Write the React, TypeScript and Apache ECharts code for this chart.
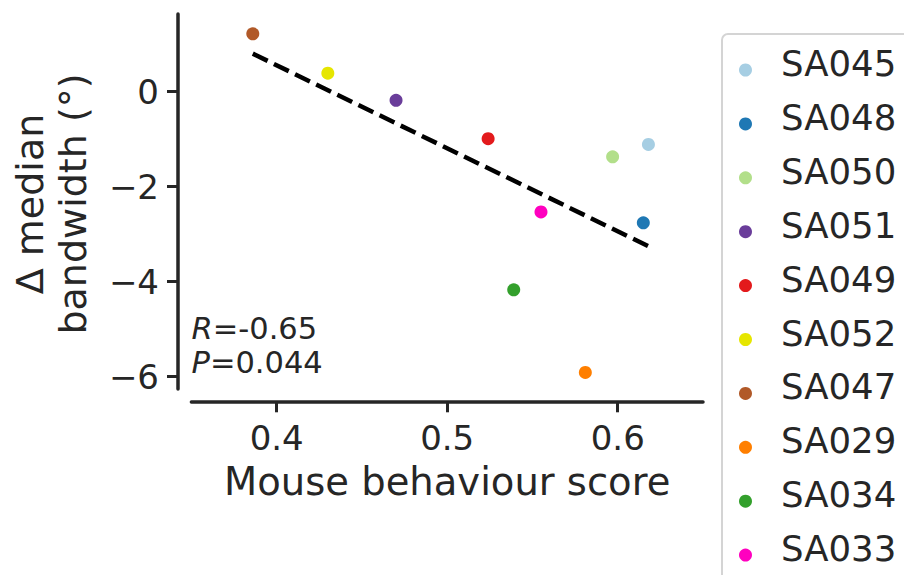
import { useEffect, useRef } from "react";
import * as echarts from "echarts";

// Per-animal behaviour score and change in median tuning bandwidth (degrees)
const subjects = ["SA045", "SA048", "SA050", "SA051", "SA049", "SA052", "SA047", "SA029", "SA034", "SA033"];
const behaviourScores = [0.618, 0.615, 0.597, 0.470, 0.524, 0.430, 0.386, 0.581, 0.539, 0.555];
const bandwidthDeltas = [-1.11, -2.76, -1.37, -0.18, -0.99, 0.39, 1.22, -5.91, -4.17, -2.53];
const subjectColours = ["#a6cee3", "#1f78b4", "#b2df8a", "#6a3d9a", "#e31a1c", "#e6e600", "#b15928", "#ff7f00", "#33a02c", "#ff00bf"];

const xTicks = [0.4, 0.5, 0.6];
const yTicks = [-6, -4, -2, 0];
const statLabels = ["R", "P"];
const statValues = ["-0.65", "0.044"];

const INK = "#262626";
const FONT = "DejaVu Sans";

// Ordinary least-squares fit drawn across the observed score range
function fitLine(xs: number[], ys: number[]) {
  const n = xs.length;
  const mx = xs.reduce((a, b) => a + b, 0) / n;
  const my = ys.reduce((a, b) => a + b, 0) / n;
  let sxy = 0;
  let sxx = 0;
  for (let i = 0; i < n; i++) {
    sxy += (xs[i] - mx) * (ys[i] - my);
    sxx += (xs[i] - mx) * (xs[i] - mx);
  }
  const slope = sxy / sxx;
  const x0 = Math.min(...xs);
  const x1 = Math.max(...xs);
  return [
    [x0, my + slope * (x0 - mx)],
    [x1, my + slope * (x1 - mx)],
  ];
}

const minusFmt = (v: number) => (v < 0 ? "\u2212" + Math.abs(v) : String(v));

export default function App() {
  const ref = useRef<HTMLDivElement>(null);

  useEffect(() => {
    if (!ref.current) return;
    const chart = echarts.init(ref.current, undefined, { renderer: "svg" });

    const scatterSeries = subjects.map((name, i) => ({
      type: "scatter",
      name,
      data: [[behaviourScores[i], bandwidthDeltas[i]]],
      symbol: "circle",
      symbolSize: 13,
      itemStyle: { color: subjectColours[i], opacity: 1 },
      z: 2,
    }));

    const option = {
      animation: false,
      backgroundColor: "#ffffff",
      textStyle: { fontFamily: FONT },
      grid: { left: 191.4, right: 201, top: 14, bottom: 186, containLabel: false },
      xAxis: {
        type: "value",
        min: 0.35,
        max: 0.65,
        offset: 12.3,
        axisLine: { show: true, onZero: false, lineStyle: { color: INK, width: 3.5 } },
        axisTick: { show: true, customValues: xTicks, length: 11, lineStyle: { color: INK, width: 3 } },
        axisLabel: {
          customValues: xTicks,
          fontSize: 34,
          color: INK,
          fontFamily: FONT,
          margin: 20,
          formatter: (v: number) => String(v),
        },
        splitLine: { show: false },
      },
      yAxis: {
        type: "value",
        min: -6.259,
        max: 1.636,
        offset: 13.4,
        axisLine: { show: true, onZero: false, lineStyle: { color: INK, width: 3.5 } },
        axisTick: { show: true, customValues: yTicks, length: 11, lineStyle: { color: INK, width: 3 } },
        axisLabel: {
          customValues: yTicks,
          fontSize: 34,
          color: INK,
          fontFamily: FONT,
          margin: 19,
          formatter: minusFmt,
        },
        splitLine: { show: false },
      },
      legend: {
        data: subjects,
        orient: "vertical",
        left: 739,
        top: 45.5,
        width: 200,
        height: 900,
        padding: 0,
        icon: "circle",
        itemWidth: 13,
        itemHeight: 13,
        itemGap: 4.9,
        formatter: "{t|{name}}",
        textStyle: {
          fontSize: 35.5,
          color: INK,
          fontFamily: FONT,
          rich: {
            t: {
              fontSize: 35.5,
              color: INK,
              fontFamily: FONT,
              lineHeight: 40,
              padding: [0, 0, 13, 24],
            },
          },
        },
      },
      graphic: [
        {
          type: "rect",
          shape: { x: 722, y: 34, width: 320, height: 700, r: 6 },
          style: { fill: "none", stroke: "#d4d4d4", lineWidth: 2 },
          silent: true,
          z: 0,
        },
        {
          type: "text",
          x: 447.2,
          y: 481.7,
          style: {
            text: "Mouse behaviour score",
            fontSize: 38.5,
            fontFamily: FONT,
            fill: INK,
            align: "center",
            verticalAlign: "middle",
          },
        },
        {
          type: "text",
          x: 51.3,
          y: 204,
          rotation: Math.PI / 2,
          style: {
            text: "\u0394 median\nbandwidth (\u00b0)",
            fontSize: 38,
            lineHeight: 43.5,
            fontFamily: FONT,
            fill: INK,
            align: "center",
            verticalAlign: "middle",
          },
        },
        ...statLabels.map((label, i) => ({
          type: "text",
          x: 191.5,
          y: 328.4 + i * 34.3,
          style: {
            text: `{i|${label}}{n|=${statValues[i]}}`,
            fontSize: 30.5,
            fontFamily: FONT,
            fill: INK,
            align: "left",
            verticalAlign: "middle",
            rich: {
              i: { fontStyle: "italic", fontSize: 30.5, fontFamily: FONT, fill: INK },
              n: { fontSize: 30.5, fontFamily: FONT, fill: INK },
            },
          },
        })),
      ],
      series: [
        ...scatterSeries,
        {
          type: "line",
          name: "fit",
          data: fitLine(behaviourScores, bandwidthDeltas),
          showSymbol: false,
          symbol: "none",
          lineStyle: { color: "#000000", width: 4.5, type: [16.5, 7] },
          z: 3,
          silent: true,
        },
      ],
    };

    chart.setOption(option as any);
    return () => chart.dispose();
  }, []);

  return <div ref={ref} style={{ width: 904, height: 575, position: "absolute", left: 0, top: 0 }} />;
}
